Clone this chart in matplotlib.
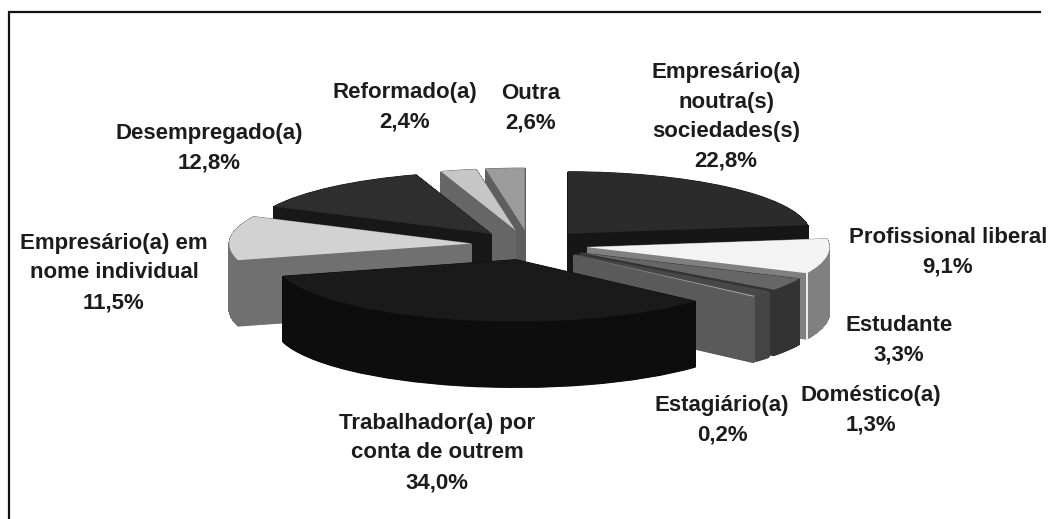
import matplotlib
matplotlib.use("Agg")
import numpy as np
import matplotlib.pyplot as plt
from matplotlib.patches import Wedge

labels = ["Empresário(a)\nnoutra(s)\nsociedades(s)\n22,8%", "Profissional liberal\n9,1%", "Estudante\n3,3%",
          "Doméstico(a)\n1,3%", "Estagiário(a)\n0,2%", "Trabalhador(a) por\nconta de outrem\n34,0%",
          "Empresário(a) em\nnome individual\n11,5%", "Desempregado(a)\n12,8%", "Reformado(a)\n2,4%", "Outra\n2,6%"]
values = [22.8, 9.1, 3.3, 1.3, 0.2, 34.0, 11.5, 12.8, 2.4, 2.6]
top_colors = ["#2b2b2b", "#f3f3f3", "#666666", "#484848", "#a8a8a8", "#1a1a1a", "#d2d2d2", "#2e2e2e", "#c6c6c6", "#9c9c9c"]
side_colors = ["#161616", "#808080", "#333333", "#444444", "#5a5a5a", "#0d0d0d", "#707070", "#181818", "#666666", "#5e5e5e"]
draw_order = [0, 9, 8, 7, 1, 2, 3, 4, 6, 5]
label_px = [(726, 117), (948, 252), (899, 340), (871, 410), (722, 420), (437, 453), (114, 273), (209, 148), (405, 107), (531, 108)]

W, H = 1051, 519
fig = plt.figure(figsize=(W / 100, H / 100), dpi=100)
bg = fig.add_axes([0, 0, 1, 1])
bg.set_xlim(0, W); bg.set_ylim(H, 0); bg.axis("off")
bg.plot([9, 9, 1040], [H, 12, 12], color="#111111", lw=1.6, solid_joinstyle="miter")

# pie plane: 1 unit = 242 px wide, 62 px tall; centre at pixel (529.5, 245)
ax = fig.add_axes([0, 0, 1, 1])
ax.patch.set_alpha(0); ax.axis("off")
ax.set_xlim(-529.5 / 242, (W - 529.5) / 242)
ax.set_ylim(-(H - 245) / 62, 245 / 62)

explode = 0.242
depth = 66 / 62
layers = 67
ends = 90 - np.cumsum(values) * 3.6
starts = ends + np.array(values) * 3.6
for i in draw_order:
    mid = np.radians((starts[i] + ends[i]) / 2)
    cx, cy = explode * np.cos(mid), explode * np.sin(mid)
    for dz in np.linspace(depth, 0, layers):
        ax.add_patch(Wedge((cx, cy - dz), 1, ends[i], starts[i], fc=side_colors[i], ec=side_colors[i],
                           lw=0.6, antialiased=dz in (depth, 0)))
    ax.add_patch(Wedge((cx, cy), 1, ends[i], starts[i], fc=top_colors[i], ec="none"))
    if i == 1:  # pale seam on the outer corner of this slice
        a = np.radians(ends[i])
        x0, y0 = cx + np.cos(a), cy + np.sin(a)
        ax.plot([x0, x0], [y0, y0 - depth], color="white", lw=1.2, zorder=3)

for t, (x, y) in zip(labels, label_px):
    bg.text(x, y, t, ha="center", va="center", family="Liberation Sans", weight="bold",
            fontsize=16, color="#1c1c1c", linespacing=1.54, zorder=5)
fig.savefig("out.png", dpi=100)
